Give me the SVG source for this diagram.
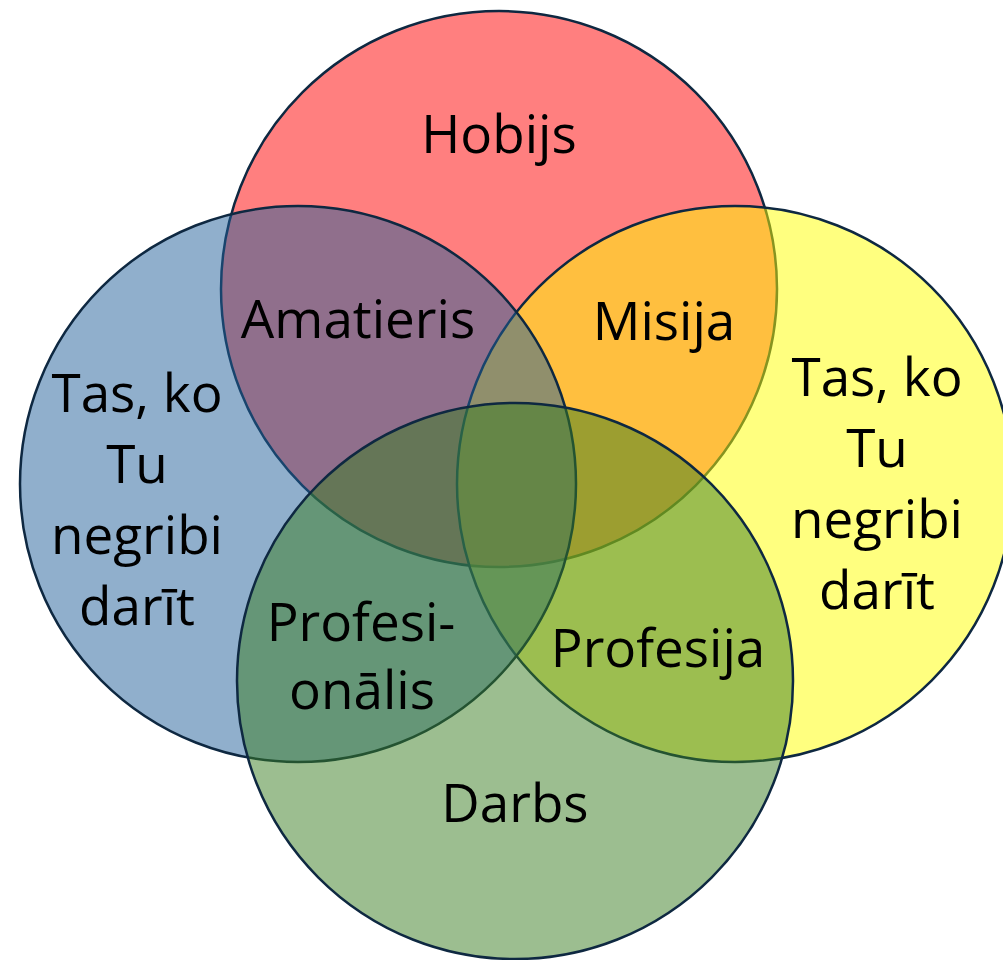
<svg xmlns="http://www.w3.org/2000/svg" width="1003" height="960" viewBox="0 0 1003 960">
<style>
.c{stroke:#0E2841;stroke-width:2.5;fill-opacity:0.5}
.t{font-family:"Open Sans","Liberation Sans",sans-serif;font-size:53px;fill:#000;text-anchor:middle}
</style>
<rect width="1003" height="960" fill="#fff"/>
<g id="hobijs">
<circle class="c" cx="499" cy="289" r="278" fill="#FF0000"/>
<text class="t" x="499" y="153">Hobijs</text>
</g>
<g id="negribi-right">
<circle class="c" cx="735" cy="484" r="278" fill="#FFFF00"/>
<text class="t" x="877" y="396">Tas, ko</text>
<text class="t" x="877" y="467">Tu</text>
<text class="t" x="877" y="538">negribi</text>
<text class="t" x="877" y="609">darīt</text>
</g>
<g id="negribi-left">
<circle class="c" cx="298" cy="484" r="278" fill="#215F9A"/>
<text class="t" x="137" y="412">Tas, ko</text>
<text class="t" x="137" y="483">Tu</text>
<text class="t" x="137" y="554">negribi</text>
<text class="t" x="137" y="625">darīt</text>
</g>
<g id="darbs">
<circle class="c" cx="515" cy="681" r="278" fill="#3A7D22"/>
<text class="t" x="515" y="822">Darbs</text>
</g>
<g id="amatieris"><text class="t" x="358" y="338">Amatieris</text></g>
<g id="misija"><text class="t" x="664" y="340">Misija</text></g>
<g id="profesionalis">
<text class="t" x="361" y="641">Profesi-</text>
<text class="t" x="362" y="709">onālis</text>
</g>
<g id="profesija"><text class="t" x="658" y="667">Profesija</text></g>
<g id="connectors"/>
</svg>
